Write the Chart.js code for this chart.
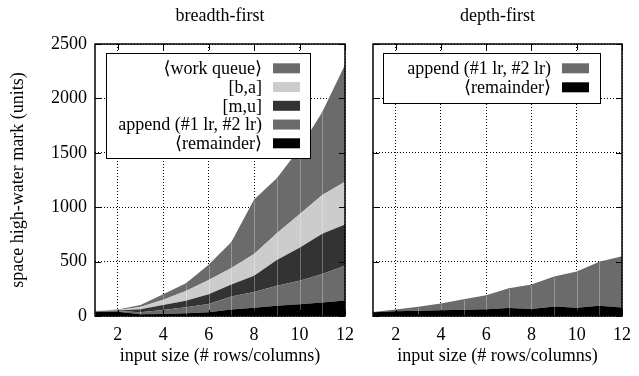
<!DOCTYPE html>
<html>
<head>
<meta charset="utf-8">
<script src="https://cdn.jsdelivr.net/npm/chart.js@4.4.0/dist/chart.umd.min.js"></script>
<style>
  html, body { margin: 0; padding: 0; background: #fff; }
  #wrap { position: relative; width: 639px; height: 376px; overflow: hidden; }
  #bf { position: absolute; left: 0; top: 0; }
  #df { position: absolute; left: 355px; top: 0; }
</style>
</head>
<body>
<div id="wrap">
  <canvas id="bf" width="362" height="376"></canvas>
  <canvas id="df" width="284" height="376"></canvas>
</div>
<script>
// input size (# rows/columns)
const sizes = [1, 2, 3, 4, 5, 6, 7, 8, 9, 10, 11, 12];
const xTicks = [2, 4, 6, 8, 10, 12];
const yTicks = [0, 500, 1000, 1500, 2000, 2500];

// breadth-first, per layer (stacked bottom to top)
const bfRemainder = [40, 40, 15, 18, 25, 35, 60, 75, 95, 108, 125, 143];
const bfAppend    = [3, 5, 19, 37, 55, 75, 120, 145, 182, 215, 262, 319];
const bfMU        = [1, 5, 27, 45, 60, 90, 110, 150, 238, 304, 368, 378];
const bfBA        = [1, 5, 21, 50, 90, 130, 152, 200, 245, 308, 358, 395];
const bfQueue     = [1, 5, 18, 50, 70, 140, 238, 500, 505, 605, 762, 1075];

// depth-first
const dfRemainder = [34, 43, 49, 52, 58, 61, 74, 64, 88, 75, 94, 78];
const dfAppend    = [3, 17, 35, 62, 97, 130, 181, 225, 274, 333, 404, 472];

const GRAY = '#6b6b6b', LIGHT = '#cccccc', DARK = '#333333', BLACK = '#000000';
const FONT = "'Liberation Serif', 'DejaVu Serif', serif";

Chart.defaults.color = '#000';
Chart.defaults.font.family = FONT;
Chart.defaults.font.size = 18;

function pts(arr) {
  return sizes.map((x, i) => ({ x: x, y: arr[i] }));
}

function layer(label, arr, color, first) {
  return {
    label: label,
    data: pts(arr),
    backgroundColor: color,
    borderColor: color,
    borderWidth: 0,
    pointRadius: 0,
    tension: 0,
    fill: first ? 'origin' : '-1'
  };
}

// title, seams, inner ticks, frame and a boxed key inside the plot (gnuplot style)
const framePlugin = {
  id: 'frame',
  afterDatasetsDraw(chart, args, o) {
    const { ctx, chartArea: a, scales: { x, y } } = chart;
    ctx.save();

    // faint seams between the filled segments
    const top = chart.getDatasetMeta(chart.data.datasets.length - 1).data;
    ctx.strokeStyle = 'rgba(255,255,255,0.3)';
    ctx.lineWidth = 1;
    ctx.beginPath();
    top.forEach(p => {
      const px = Math.round(p.x) + 0.5;
      ctx.moveTo(px, a.bottom); ctx.lineTo(px, p.y + 1);
    });
    ctx.stroke();

    ctx.strokeStyle = '#000';
    ctx.beginPath();
    x.ticks.forEach(t => {
      const px = Math.round(x.getPixelForValue(t.value)) + 0.5;
      ctx.moveTo(px, a.top); ctx.lineTo(px, a.top + 6);
      ctx.moveTo(px, a.bottom); ctx.lineTo(px, a.bottom - 6);
    });
    y.ticks.forEach(t => {
      const py = Math.round(y.getPixelForValue(t.value)) + 0.5;
      ctx.moveTo(a.left, py); ctx.lineTo(a.left + 6, py);
      ctx.moveTo(a.right, py); ctx.lineTo(a.right - 6, py);
    });
    ctx.stroke();
    ctx.lineWidth = 1.5;
    ctx.strokeRect(a.left, a.top, a.right - a.left, a.bottom - a.top);

    // plot title, centred on the plot
    ctx.font = '18px ' + FONT;
    ctx.fillStyle = '#000';
    ctx.textAlign = 'center';
    ctx.textBaseline = 'middle';
    ctx.fillText(o.title, (a.left + a.right) / 2, 16);

    // key
    const bx = a.left + o.dx, by = a.top + o.dy;
    ctx.fillStyle = '#fff';
    ctx.fillRect(bx, by, o.w, o.h);
    ctx.lineWidth = 1;
    ctx.strokeRect(bx + 0.5, by + 0.5, o.w, o.h);
    ctx.textAlign = 'right';
    const ds = chart.data.datasets.slice().reverse();
    ds.forEach((d, i) => {
      const cy = by + o.first + i * o.row;
      const swR = bx + o.w - o.swGap;
      ctx.fillStyle = d.backgroundColor;
      ctx.fillRect(swR - 27, cy - 5, 27, 10);
      ctx.fillStyle = '#000';
      ctx.fillText(d.label, swR - 27 - 11, cy + 1);
    });
    ctx.restore();
  }
};

function makeOptions(isLeft, key) {
  return {
    responsive: false,
    animation: false,
    devicePixelRatio: 1,
    layout: { padding: { left: 0, right: isLeft ? 14 : 11, top: 44, bottom: 0 } },
    plugins: {
      legend: { display: false },
      tooltip: { enabled: false },
      title: { display: false },
      frame: key
    },
    scales: {
      x: {
        type: 'linear',
        min: 1,
        max: 12,
        afterBuildTicks: s => { s.ticks = xTicks.map(v => ({ value: v })); },
        afterFit: s => { s.height = 60; },
        grid: { color: '#000', lineWidth: 1, drawTicks: false },
        border: { display: false, dash: [1, 2] },
        ticks: { padding: 8, maxRotation: 0, font: { size: 18 }, callback: v => String(v) },
        title: {
          display: true,
          text: 'input size (# rows/columns)',
          font: { size: 18 },
          padding: { top: 0, bottom: 9 }
        }
      },
      y: {
        type: 'linear',
        stacked: true,
        min: 0,
        max: 2500,
        afterBuildTicks: s => { s.ticks = yTicks.map(v => ({ value: v })); },
        afterFit: s => { s.width = isLeft ? 95 : 18; },
        grid: { color: '#000', lineWidth: 1, drawTicks: false },
        border: { display: false, dash: [1, 2] },
        ticks: { display: isLeft, padding: 8, font: { size: 18 }, callback: v => String(v) },
        title: {
          display: isLeft,
          text: 'space high-water mark (units)',
          font: { size: 18 },
          padding: { top: 7, bottom: 0 }
        }
      }
    }
  };
}

new Chart(document.getElementById('bf'), {
  type: 'line',
  data: {
    datasets: [
      layer('\u27E8remainder\u27E9', bfRemainder, BLACK, true),
      layer('append (#1 lr, #2 lr)', bfAppend, GRAY, false),
      layer('[m,u]', bfMU, DARK, false),
      layer('[b,a]', bfBA, LIGHT, false),
      layer('\u27E8work queue\u27E9', bfQueue, GRAY, false)
    ]
  },
  options: makeOptions(true, { title: 'breadth-first', dx: 11, dy: 9, w: 204, h: 105, first: 15.3, row: 18.75, swGap: 10 }),
  plugins: [framePlugin]
});

new Chart(document.getElementById('df'), {
  type: 'line',
  data: {
    datasets: [
      layer('\u27E8remainder\u27E9', dfRemainder, BLACK, true),
      layer('append (#1 lr, #2 lr)', dfAppend, GRAY, false)
    ]
  },
  options: makeOptions(false, { title: 'depth-first', dx: 10, dy: 9, w: 217, h: 50, first: 15.3, row: 19, swGap: 11 }),
  plugins: [framePlugin]
});
</script>
</body>
</html>
